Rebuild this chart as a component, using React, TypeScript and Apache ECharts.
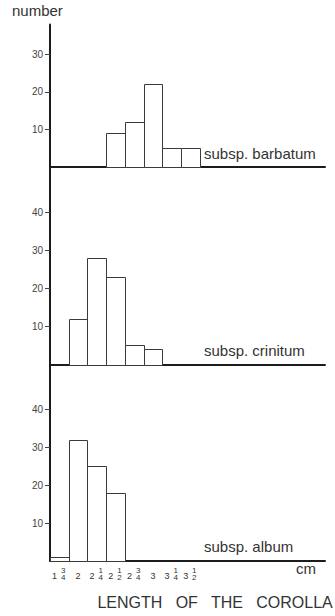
import React, { useEffect, useRef } from "react";
import * as echarts from "echarts";

// Length classes (cm) — whole part and stacked fraction parts
const wholeLabels = ["1", "2", "2", "2", "2", "3", "3", "3"];
const fracNum = ["3", "", "1", "1", "3", "", "1", "1"];
const fracDen = ["4", "", "4", "2", "4", "", "4", "2"];

// Counts per length class
const barbatum = [0, 0, 0, 9, 12, 22, 5, 5];
const crinitum = [0, 12, 28, 23, 5, 4, 0, 0];
const album = [1, 32, 25, 18, 0, 0, 0, 0];

const panelNames = ["subsp. barbatum", "subsp. crinitum", "subsp. album"];
const yTicks1 = [10, 20, 30];
const yTicks23 = [10, 20, 30, 40];

const FONT = "'Liberation Sans', Arial, Helvetica, sans-serif";
const TXT = "#333";
const LINE = "#1c1c1c";

export default function App() {
  const ref = useRef<HTMLDivElement>(null);
  useEffect(() => {
    if (!ref.current) return;
    const chart = echarts.init(ref.current, null, { renderer: "svg" });
    const xMax = 14.67;
    const n = wholeLabels.length;
    const centers = Array.from({ length: n }, (_, i) => i + 0.5);
    const wholePos = centers.map((c, i) => (fracNum[i] ? c - 0.26 : c));
    const fracPos = centers.filter((_, i) => fracNum[i]).map((c) => c + 0.2);

    const grids = [
      { left: 50, right: 10, top: 24.5, height: 142 },
      { left: 50, right: 10, top: 166.5, height: 198 },
      { left: 50, right: 10, top: 364, height: 197 },
    ];
    const series = [barbatum, crinitum, album];
    const yMax = [38, 52, 52];

    const xAxes: any[] = grids.map((_, gi) => ({
      type: "value",
      gridIndex: gi,
      min: 0,
      max: xMax,
      position: "bottom",
      splitLine: { show: false },
      axisTick: { show: false },
      axisLine: { show: true, lineStyle: { color: LINE, width: 2 } },
      axisLabel:
        gi === 2
          ? {
              show: true,
              customValues: wholePos,
              margin: 10,
              fontSize: 9,
              lineHeight: 9,
              color: TXT,
              fontFamily: FONT,
              formatter: (v: number) => wholeLabels[Math.round(v - 0.5)] ?? "",
            }
          : { show: false },
    }));
    xAxes.push({
      type: "value",
      gridIndex: 2,
      min: 0,
      max: xMax,
      position: "bottom",
      splitLine: { show: false },
      axisTick: { show: false },
      axisLine: { show: false },
      axisLabel: {
        show: true,
        customValues: fracPos,
        margin: 5.5,
        fontSize: 8,
        lineHeight: 7.5,
        color: TXT,
        fontFamily: FONT,
        formatter: (v: number) => {
          const i = Math.round(v - 0.5);
          return fracNum[i] ? fracNum[i] + "\n" + fracDen[i] : "";
        },
      },
    });

    const yAxes = grids.map((_, gi) => ({
      type: "value",
      gridIndex: gi,
      min: 0,
      max: yMax[gi],
      interval: 10,
      splitLine: { show: false },
      axisLine: { show: true, lineStyle: { color: LINE, width: 2 } },
      axisTick: {
        show: true,
        length: 5,
        customValues: gi === 0 ? yTicks1 : yTicks23,
        lineStyle: { color: "#444", width: 1 },
      },
      axisLabel: {
        show: true,
        customValues: gi === 0 ? yTicks1 : yTicks23,
        margin: 7,
        fontSize: 10,
        color: "#444",
        fontFamily: FONT,
      },
    }));

    const seriesList = series.map((vals, gi) => ({
      type: "custom",
      xAxisIndex: gi,
      yAxisIndex: gi,
      data: vals.map((v, i) => [i, v]).filter((d) => d[1] > 0),
      renderItem: (params: any, api: any) => {
        const i = api.value(0);
        const v = api.value(1);
        const p0 = api.coord([i, v]);
        const p1 = api.coord([i + 1, 0]);
        return {
          type: "rect",
          shape: {
            x: Math.round(p0[0]) + 0.5,
            y: Math.round(p0[1]) + 0.5,
            width: Math.round(p1[0]) - Math.round(p0[0]),
            height: Math.round(p1[1]) - Math.round(p0[1]),
          },
          style: { fill: "#fff", stroke: "#3a3a3a", lineWidth: 1 },
        };
      },
    }));

    const labelY = [155, 352, 548];
    const graphics: any[] = panelNames.map((t, gi) => ({
      type: "text",
      left: 204,
      top: labelY[gi] - 9,
      style: { text: t, fontSize: 15, fontFamily: FONT, fill: TXT },
    }));
    graphics.push(
      { type: "text", left: 12, top: 3, style: { text: "number", fontSize: 15, fontFamily: FONT, fill: TXT } },
      { type: "text", left: 296, top: 561, style: { text: "cm", fontSize: 15, fontFamily: FONT, fill: TXT } },
      {
        type: "text",
        right: 2,
        top: 594,
        style: { text: "LENGTH   OF   THE   COROLLA", fontSize: 16, fontFamily: FONT, fill: TXT },
      }
    );

    chart.setOption({
      animation: false,
      backgroundColor: "#fff",
      grid: grids,
      xAxis: xAxes,
      yAxis: yAxes,
      series: seriesList,
      graphic: graphics,
    });
    return () => chart.dispose();
  }, []);
  return (
    <div
      ref={ref}
      style={{ position: "fixed", left: 0, top: 0, width: 335, height: 616 }}
    />
  );
}
